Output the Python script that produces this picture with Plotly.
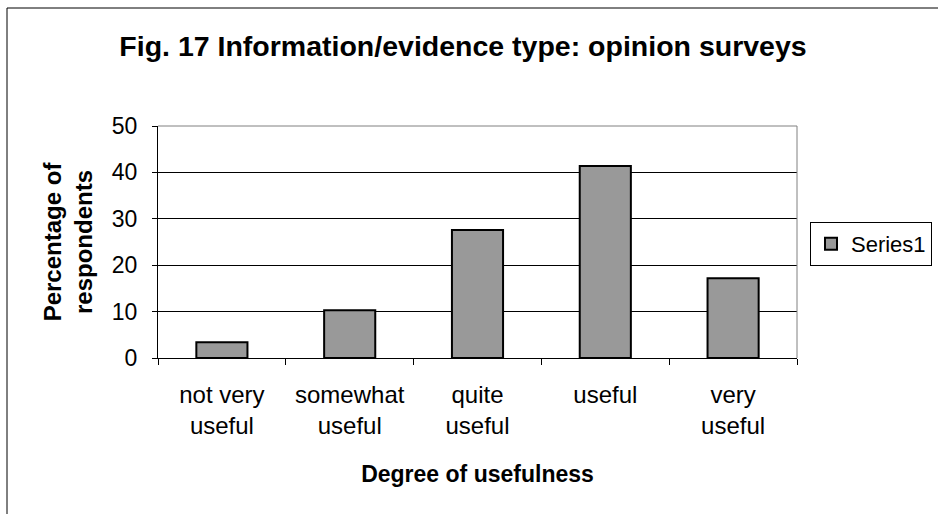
import plotly.graph_objects as go

categories = ["not very<br>useful", "somewhat<br>useful", "quite<br>useful", "useful", "very<br>useful"]
values = [3.4, 10.3, 27.6, 41.4, 17.2]
y_ticks = [0, 10, 20, 30, 40, 50]

W, H = 938, 514
L, R, T, B = 158, 141, 126, 156
pw, ph = W - L - R, H - T - B

def px_x(px):
    return (px - L) / pw

def px_y(py):
    return (H - B - py) / ph

font = "Liberation Sans, Arial, sans-serif"

fig = go.Figure()
fig.add_trace(go.Bar(
    x=categories, y=values, name="Series1",
    marker=dict(color="#999999", line=dict(color="black", width=2)),
    width=0.4,
))

fig.update_layout(
    width=W, height=H,
    margin=dict(l=L, r=R, t=T, b=B, autoexpand=False),
    paper_bgcolor="white", plot_bgcolor="white",
    font=dict(family=font, size=23, color="black"),
    title=dict(text="<b>Fig. 17 Information/evidence type: opinion surveys</b>",
               x=463 / W, xanchor="center", y=1 - 46 / H, yanchor="middle",
               font=dict(size=28.5)),
    showlegend=True,
    legend=dict(x=px_x(810), y=px_y(222), xanchor="left", yanchor="top",
                bordercolor="black", borderwidth=1, bgcolor="white",
                font=dict(size=22), itemwidth=30, tracegroupgap=0),
    xaxis=dict(
        showgrid=False, showline=True, linecolor="black", linewidth=1,
        ticks="outside", tickson="boundaries", ticklen=6, tickcolor="black",
        tickfont=dict(size=24), ticklabelstandoff=15,
        title=dict(text="<b>Degree of usefulness</b>", font=dict(size=23), standoff=27),
        fixedrange=True,
    ),
    yaxis=dict(
        range=[0, 50], tickvals=y_ticks, showgrid=True, gridcolor="black", gridwidth=1,
        showline=True, linecolor="black", linewidth=1,
        ticks="outside", ticklen=5, tickcolor="black",
        tickfont=dict(size=23), ticklabelstandoff=10,
        title=dict(text="<b>Percentage of<br>respondents</b>", font=dict(size=24), standoff=12),
        zeroline=False,
    ),
    bargap=0.6,
)

shapes = [
    # plot area frame (top and right in grey)
    dict(type="line", xref="paper", yref="paper", x0=0, x1=1, y0=1, y1=1,
         line=dict(color="#808080", width=1)),
    dict(type="line", xref="paper", yref="paper", x0=1, x1=1, y0=0, y1=1,
         line=dict(color="#808080", width=1)),
    # chart area border
    dict(type="line", xref="paper", yref="paper", x0=px_x(7), x1=px_x(940),
         y0=px_y(8), y1=px_y(8), line=dict(color="black", width=1)),
    dict(type="line", xref="paper", yref="paper", x0=px_x(7), x1=px_x(7),
         y0=px_y(8), y1=px_y(520), line=dict(color="black", width=1)),
]
fig.update_layout(shapes=shapes)

fig.write_html("out.html")
